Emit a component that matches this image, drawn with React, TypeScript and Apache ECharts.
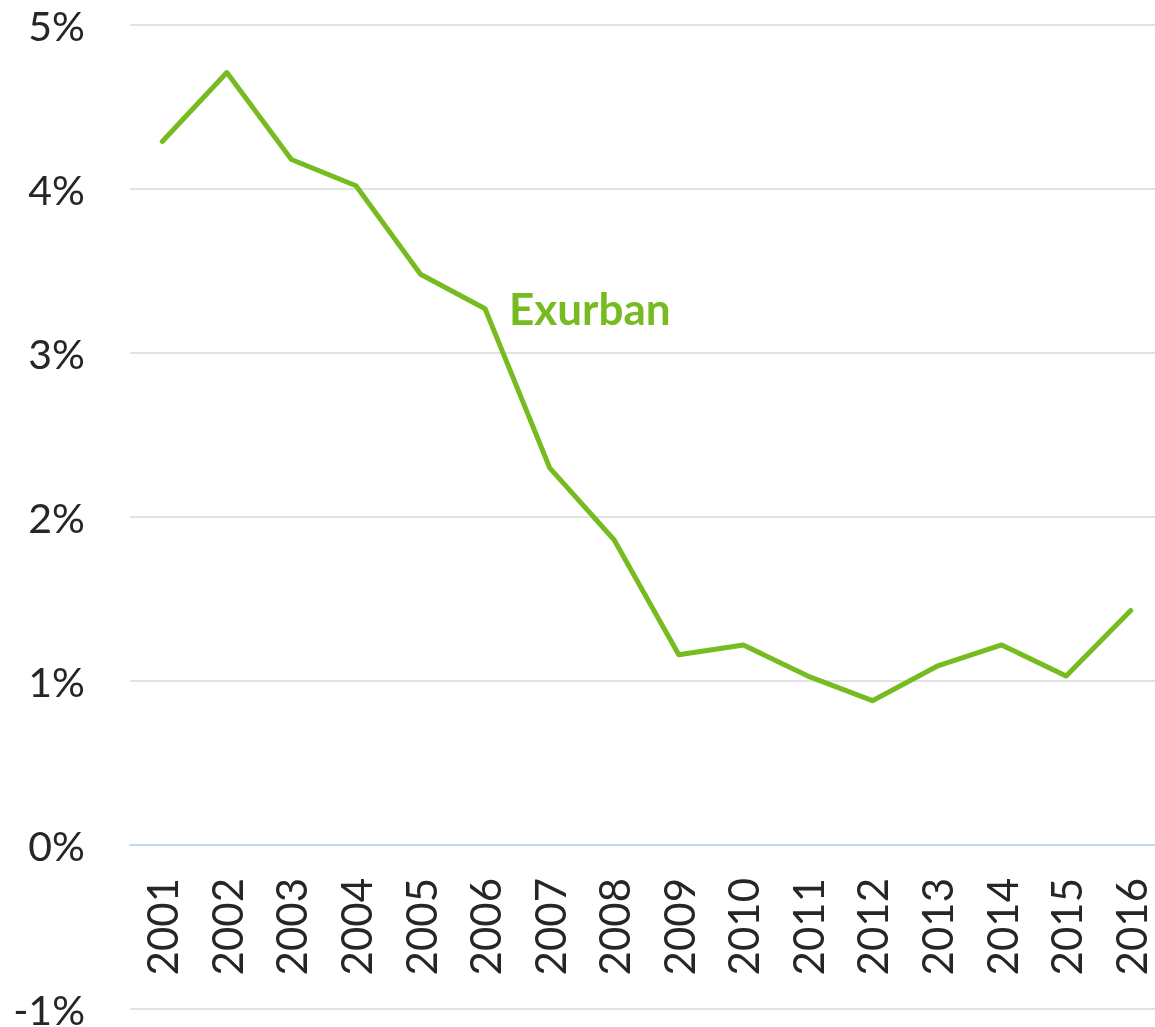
import React, { useEffect, useRef } from "react";
import * as echarts from "echarts";

const years = ["2001","2002","2003","2004","2005","2006","2007","2008","2009","2010","2011","2012","2013","2014","2015","2016"];
const exurban = [4.29, 4.71, 4.18, 4.02, 3.48, 3.27, 2.3, 1.86, 1.16, 1.22, 1.03, 0.88, 1.09, 1.22, 1.03, 1.43];
const seriesLabel = "Exurban";

export default function App() {
  const ref = useRef<HTMLDivElement>(null);
  useEffect(() => {
    if (!ref.current) return;
    const chart = echarts.init(ref.current, null, { renderer: "svg" });
    chart.setOption({
      animation: false,
      textStyle: { fontFamily: "Lato" },
      grid: { left: 130, right: -8, top: 25, bottom: 18, containLabel: false, outerBoundsMode: "none" },
      xAxis: {
        type: "category",
        data: years,
        boundaryGap: true,
        position: "bottom",
        offset: -164,
        z: 5,
        axisLine: { onZero: false, lineStyle: { color: "#bdd7ee", width: 1.5 } },
        axisTick: { show: false },
        axisLabel: { rotate: 90, margin: 33, fontSize: 42, color: "#262626", fontFamily: "Lato" },
        splitLine: { show: false },
      },
      yAxis: {
        type: "value",
        min: -1,
        max: 5,
        interval: 1,
        axisLine: { show: false },
        axisTick: { show: false },
        axisLabel: { formatter: "{value}%", fontSize: 41, lineHeight: 30, color: "#262626", margin: 45, fontFamily: "Lato" },
        splitLine: {
          lineStyle: {
            color: ["#d9d9d9", "#bdd7ee", "#d9d9d9", "#d9d9d9", "#d9d9d9", "#d9d9d9", "#d9d9d9"],
            width: 1.5,
          },
        },
      },
      graphic: [
        {
          type: "text",
          left: 509,
          top: 286,
          style: { text: seriesLabel, fill: "#76bc21", font: "bold 44px Lato" },
        },
      ],
      series: [
        {
          type: "line",
          data: exurban,
          symbol: "none",
          lineStyle: { color: "#76bc21", width: 5, cap: "round", join: "round" },
        },
      ],
    });
    return () => chart.dispose();
  }, []);
  return <div ref={ref} style={{ position: "fixed", left: 0, top: 0, width: 1155, height: 1027 }} />;
}
